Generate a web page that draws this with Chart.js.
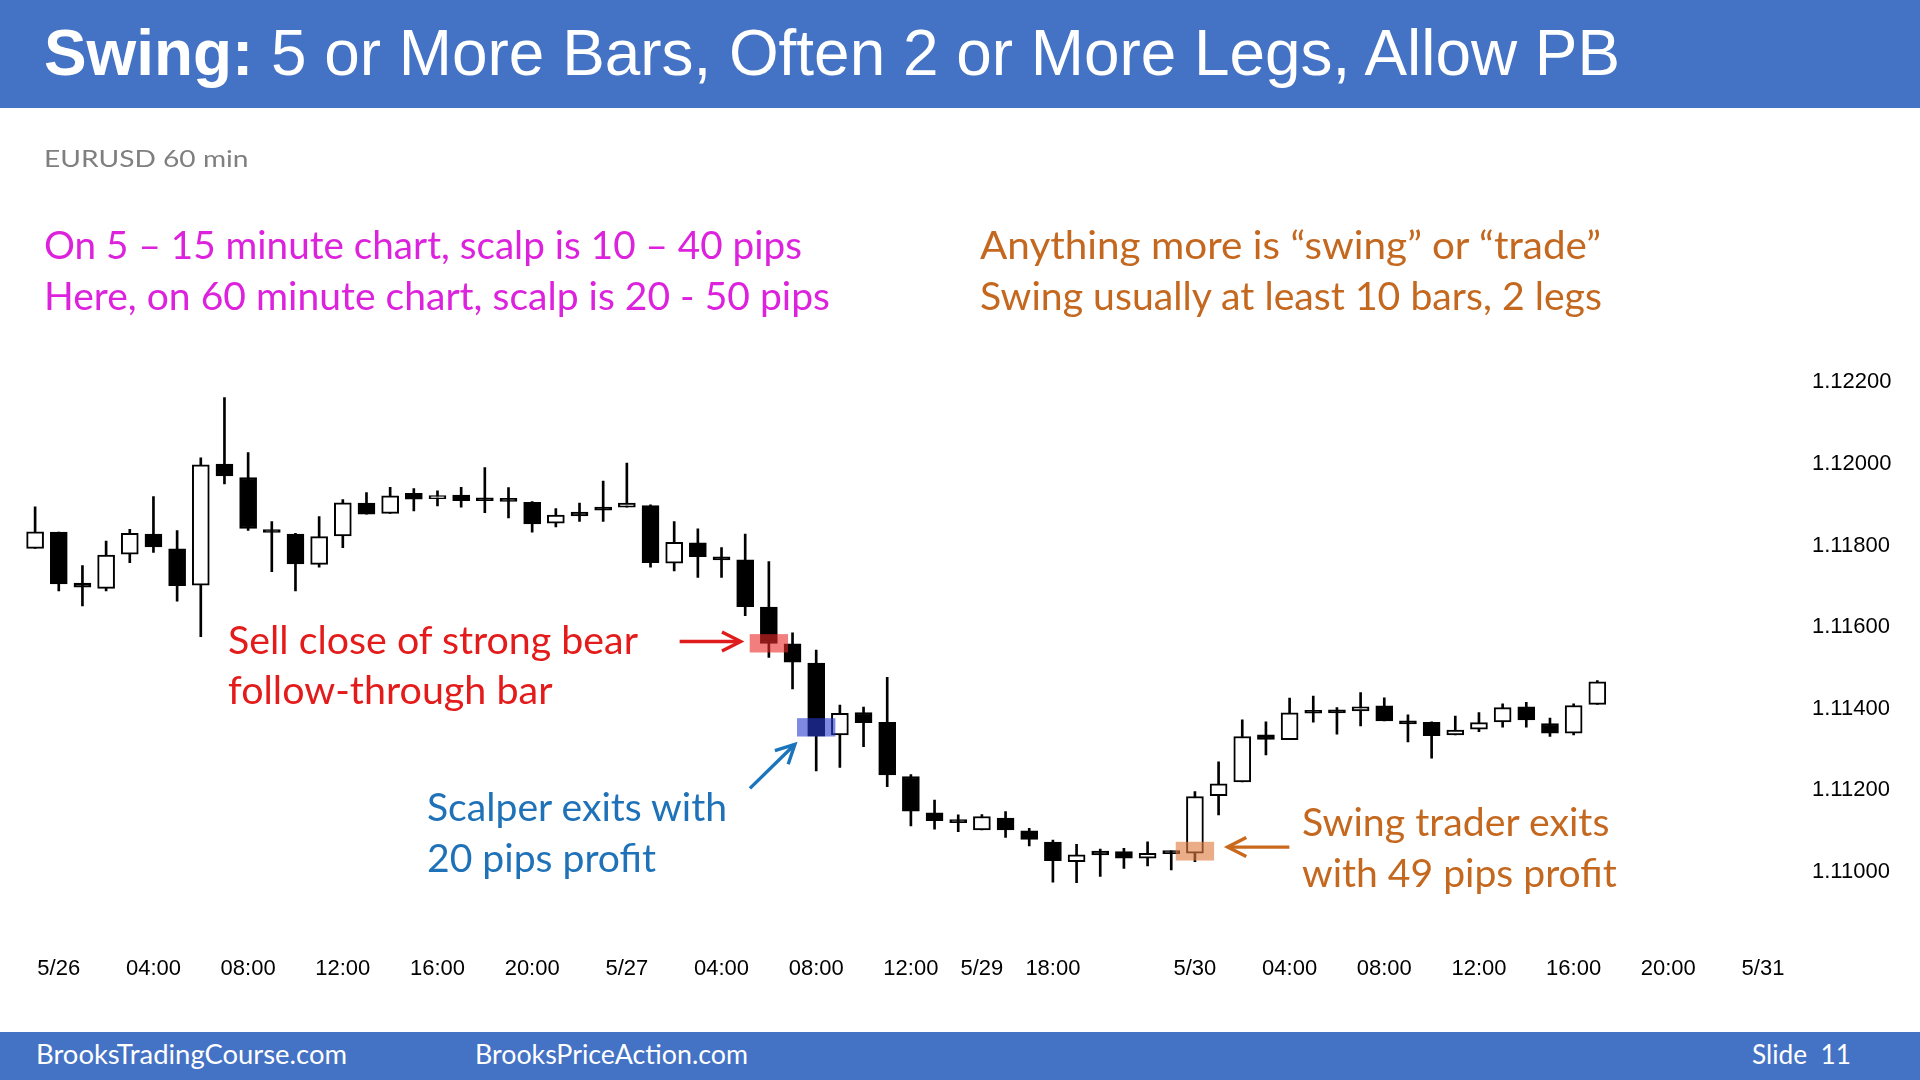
<!DOCTYPE html>
<html><head><meta charset="utf-8">
<script src="https://cdn.jsdelivr.net/npm/chart.js@4.4.1/dist/chart.umd.min.js"></script>
<style>
html,body{margin:0;padding:0;background:#fff;}
#slide{position:relative;width:1920px;height:1080px;overflow:hidden;background:#fff;}
#chart{position:absolute;left:0;top:0;width:1920px;height:1080px;}
.band{position:absolute;left:0;width:1920px;background:#4472C4;}
.t{position:absolute;white-space:nowrap;transform-origin:0 0;line-height:1;}
</style></head><body>
<div id="slide">
<canvas id="chart" width="1920" height="1080"></canvas>
<div class="band" style="top:0;height:108px"></div>
<div class="band" style="top:1032px;height:48px"></div>
</div>
<script>
// ---------- DATA ----------
const slotCount = 75;
const tickSlots = [1,5,9,13,17,21,25,29,33,37,40,43,49,53,57,61,65,69,73];
const tickTexts = ['5/26','04:00','08:00','12:00','16:00','20:00','5/27','04:00','08:00','12:00','5/29','18:00','5/30','04:00','08:00','12:00','16:00','20:00','5/31'];
const yTicks = [1.110,1.112,1.114,1.116,1.118,1.120,1.122];

const opens  = [1.11793,1.11833,1.11708,1.11695,1.11779,1.11828,1.11792,1.11703,1.12000,1.11967,
                1.11838,1.11828,1.11754,1.11824,1.11904,1.11879,1.11928,1.11915,1.11924,1.11916,
                1.11916,1.11906,1.11855,1.11882,1.11891,1.11894,1.11898,1.11757,1.11807,1.11769,
                1.11765,1.11649,1.11559,1.11512,1.11336,1.11391,1.11367,1.11234,1.11145,1.11123,
                1.11103,1.11132,1.11101,1.11073,1.11025,1.11051,1.11050,1.11034,1.11047,1.11046,
                1.11187,1.11221,1.11336,1.11324,1.11395,1.11392,1.11395,1.11407,1.11365,1.11367,
                1.11336,1.11350,1.11368,1.11405,1.11364,1.11340,1.11411];
const highs  = [1.11895,1.11833,1.11751,1.11811,1.11840,1.11920,1.11837,1.12015,1.12163,1.12028,
                1.11859,1.11830,1.11871,1.11913,1.11930,1.11943,1.11940,1.11934,1.11943,1.11991,
                1.11942,1.11908,1.11891,1.11904,1.11958,1.12002,1.11900,1.11859,1.11841,1.11795,
                1.11828,1.11761,1.11586,1.11544,1.11409,1.11404,1.11477,1.11239,1.11176,1.11140,
                1.11141,1.11148,1.11107,1.11078,1.11068,1.11056,1.11058,1.11074,1.11052,1.11197,
                1.11270,1.11373,1.11368,1.11426,1.11431,1.11403,1.11440,1.11427,1.11385,1.11368,
                1.11382,1.11391,1.11412,1.11416,1.11377,1.11412,1.11469];
const lows   = [1.11793,1.11689,1.11652,1.11689,1.11758,1.11783,1.11664,1.11577,1.11951,1.11837,
                1.11736,1.11689,1.11747,1.11795,1.11877,1.11879,1.11885,1.11897,1.11894,1.11881,
                1.11868,1.11833,1.11846,1.11859,1.11859,1.11894,1.11747,1.11738,1.11722,1.11722,
                1.11628,1.11526,1.11449,1.11248,1.11256,1.11307,1.11209,1.11113,1.11105,1.11099,
                1.11103,1.11085,1.11064,1.10975,1.10974,1.10989,1.11009,1.11015,1.11005,1.11025,
                1.11140,1.11221,1.11287,1.11324,1.11367,1.11338,1.11358,1.11370,1.11319,1.11279,
                1.11336,1.11344,1.11355,1.11355,1.11332,1.11336,1.11411];
const closes = [1.11834,1.11706,1.11698,1.11777,1.11830,1.11797,1.11702,1.11998,1.11971,1.11842,
                1.11832,1.11755,1.11822,1.11905,1.11877,1.11922,1.11914,1.11922,1.11910,1.11910,
                1.11908,1.11853,1.11875,1.11873,1.11887,1.11904,1.11758,1.11808,1.11773,1.11765,
                1.11650,1.11560,1.11514,1.11333,1.11389,1.11366,1.11238,1.11149,1.11126,1.11121,
                1.11136,1.11103,1.11080,1.11028,1.11042,1.11042,1.11034,1.11046,1.11045,1.11185,
                1.11216,1.11332,1.11325,1.11390,1.11389,1.11390,1.11405,1.11370,1.11363,1.11334,
                1.11348,1.11366,1.11403,1.11373,1.11340,1.11408,1.11466];

// highlighted price zones: [slot, low, high]
const zoneSlots  = [31, 33, 49];
const zoneLows   = [1.11538, 1.11332, 1.11028];
const zoneHighs  = [1.11583, 1.11377, 1.11074];
const zoneColors = ['rgba(235,40,40,0.6)','rgba(40,60,205,0.6)','rgba(222,122,62,0.62)'];
// arrows in chart space: from (slot, price) to (slot, price)
const arrowFrom = [[27.23,1.11565],[30.2,1.11205],[52.99,1.11061]];
const arrowTo   = [[29.81,1.11565],[32.1,1.11313],[50.38,1.11061]];
const arrowColors = ['#E01B1B','#1B75BC','#C8691E'];

// ---------- BUILD ----------
const categories = Array.from({length: slotCount}, () => '');
tickSlots.forEach((s, i) => { categories[s] = tickTexts[i]; });
const bodies = opens.map((o, i) => [o, closes[i]]);
const wicks  = lows.map((l, i) => [l, highs[i]]);
const bodyColors = opens.map((o, i) => closes[i] >= o ? '#ffffff' : '#000000');

const overlayPlugin = {
  id: 'overlay',
  afterDatasetsDraw(chart) {
    const {ctx, scales: {x, y}} = chart;
    ctx.save();
    zoneSlots.forEach((s, i) => {
      const x1 = x.getPixelForValue(s - 0.81), x2 = x.getPixelForValue(s + 0.81);
      const y1 = y.getPixelForValue(zoneHighs[i]), y2 = y.getPixelForValue(zoneLows[i]);
      ctx.fillStyle = zoneColors[i];
      ctx.fillRect(x1, y1, x2 - x1, y2 - y1);
    });
    arrowFrom.forEach((f, i) => {
      const x1 = x.getPixelForValue(f[0]), y1 = y.getPixelForValue(f[1]);
      const x2 = x.getPixelForValue(arrowTo[i][0]), y2 = y.getPixelForValue(arrowTo[i][1]);
      const ang = Math.atan2(y2 - y1, x2 - x1), L = 21, a = 0.47;
      ctx.strokeStyle = arrowColors[i]; ctx.lineWidth = 3.4; ctx.lineJoin = 'miter';
      ctx.beginPath(); ctx.moveTo(x1, y1); ctx.lineTo(x2 - Math.cos(ang) * 2, y2 - Math.sin(ang) * 2); ctx.stroke();
      ctx.beginPath();
      ctx.moveTo(x2 - L * Math.cos(ang - a), y2 - L * Math.sin(ang - a));
      ctx.lineTo(x2, y2);
      ctx.lineTo(x2 - L * Math.cos(ang + a), y2 - L * Math.sin(ang + a));
      ctx.stroke();
    });
    ctx.restore();
  }
};

const axisFont = {family: '"Liberation Sans", Arial, sans-serif', size: 22};
new Chart(document.getElementById('chart'), {
  type: 'bar',
  data: {
    labels: categories,
    datasets: [
      {label: 'body', data: bodies, order: 0, grouped: false, barThickness: 17,
       backgroundColor: bodyColors, borderColor: '#000', borderWidth: 2, borderSkipped: false, minBarLength: 3},
      {label: 'wick', data: wicks, order: 1, grouped: false, barThickness: 2,
       backgroundColor: '#000', borderWidth: 0}
    ]
  },
  options: {
    responsive: false, animation: false, devicePixelRatio: 1,
    layout: {padding: {left: 23.27, top: 300.8, right: 0, bottom: 0}},
    plugins: {legend: {display: false}, tooltip: {enabled: false}},
    scales: {
      x: {type: 'category', offset: true,
          grid: {display: false, drawTicks: false}, border: {display: false},
          ticks: {autoSkip: false, maxRotation: 0, minRotation: 0, padding: 26.2, color: '#000', font: axisFont},
          afterFit(s) { s.height = 150.9; }},
      y: {type: 'linear', position: 'right', min: 1.1086, max: 1.124, beginAtZero: false,
          grid: {display: false, drawTicks: false}, border: {display: false},
          afterBuildTicks(s) { s.ticks = yTicks.map(v => ({value: v})); },
          ticks: {padding: 13.5, color: '#000', font: axisFont, callback: v => Number(v).toFixed(5)},
          afterFit(s) { s.width = 121.5; }}
    }
  },
  plugins: [overlayPlugin]
});

// ---------- SLIDE TEXT ----------
const LATO = 'Lato, "Open Sans", sans-serif';
const ARIAL = '"Liberation Sans", Arial, sans-serif';
const texts = [
  {h: '<b>Swing:</b> 5 or More Bars, Often 2 or More Legs, Allow PB', x: 44, base: 75.5, w: 1576, size: 64, f: ARIAL, c: '#fff', asc: 0.8465},
  {h: 'EURUSD 60 min', x: 44, y: 160.5, w: 204.5, size: 23.5, f: LATO, c: '#7F7F7F'},
  {h: 'On 5 – 15 minute chart, scalp is 10 – 40 pips', x: 44, y: 246.2, w: 758, size: 38, f: LATO, c: '#DD22DD'},
  {h: 'Here, on 60 minute chart, scalp is 20 - 50 pips', x: 44, y: 297.2, w: 786, size: 38, f: LATO, c: '#DD22DD'},
  {h: 'Anything more is “swing” or “trade”', x: 979.6, y: 246.2, w: 621, size: 38, f: LATO, c: '#C5681F'},
  {h: 'Swing usually at least 10 bars, 2 legs', x: 979.6, y: 297.2, w: 622, size: 38, f: LATO, c: '#C5681F'},
  {h: 'Sell close of strong bear', x: 227.8, y: 641, w: 410, size: 38, f: LATO, c: '#E41B1B'},
  {h: 'follow-through bar', x: 227.8, y: 691.2, w: 324.5, size: 38, f: LATO, c: '#E41B1B'},
  {h: 'Scalper exits with', x: 427.4, y: 808, w: 300, size: 38, f: LATO, c: '#1F72B8'},
  {h: '20 pips profit', x: 427.4, y: 859.4, w: 229, size: 38, f: LATO, c: '#1F72B8'},
  {h: 'Swing trader exits', x: 1301.6, y: 823.5, w: 307.4, size: 38, f: LATO, c: '#C5681F'},
  {h: 'with 49 pips profit', x: 1301.6, y: 874, w: 314.7, size: 38, f: LATO, c: '#C5681F'},
  {h: 'BrooksTradingCourse.com', x: 35.5, y: 1055, w: 311, size: 27, f: LATO, c: '#fff'},
  {h: 'BrooksPriceAction.com', x: 475, y: 1055, w: 273, size: 27, f: LATO, c: '#fff'},
  {h: 'Slide&nbsp;&nbsp;11', x: 1752.3, y: 1055, w: 99, size: 27, f: LATO, c: '#fff'}
];
const slide = document.getElementById('slide');
texts.forEach(t => {
  const d = document.createElement('div');
  d.className = 't';
  d.innerHTML = t.h;
  d.style.fontFamily = t.f;
  d.style.fontSize = t.size + 'px';
  d.style.color = t.c;
  d.style.left = t.x + 'px';
  d.style.top = (t.base !== undefined ? t.base - t.asc * t.size : t.y - 0.56 * t.size) + 'px';
  slide.appendChild(d);
  const w = d.getBoundingClientRect().width;
  if (w > 0) d.style.transform = 'scaleX(' + (t.w / w) + ')';
});
</script>
</body></html>
